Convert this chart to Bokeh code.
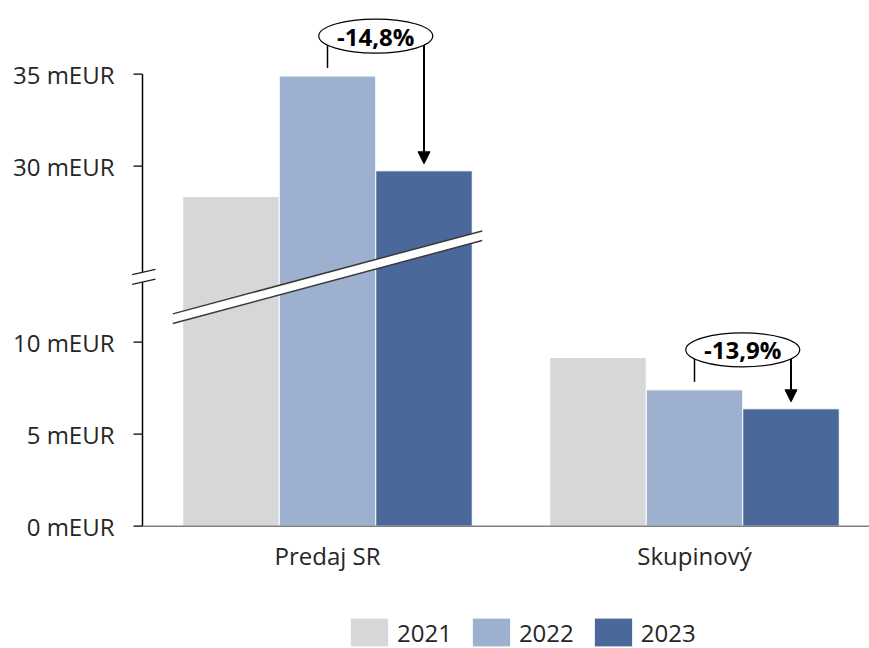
from bokeh.plotting import figure
from bokeh.models import Range1d, Legend, LegendItem, Arrow, NormalHead
from bokeh.core.properties import value
from bokeh.embed import file_html
from bokeh.resources import INLINE

# ---------------- data ----------------
categories = ["Predaj SR", "Skupinový"]
years = ["2021", "2022", "2023"]
v2021 = [28.35, 9.17]
v2022 = [34.9, 7.41]
v2023 = [29.75, 6.38]
changes = ["-14,8%", "-13,9%"]
tick_values = [0, 5, 10, 30, 35]
tick_labels = ["0 mEUR", "5 mEUR", "10 mEUR", "30 mEUR", "35 mEUR"]
colors = ["#D6D7D9", "#9DB0CF", "#4A6899"]

# ---------------- broken axis ----------------
BREAK_AT = 12.0     # values above this are drawn on the upper segment
SHIFT = 10.435      # amount of value range cut out by the break


def disp(v):
    return v if v <= BREAK_AT else v - SHIFT


FONT = value("Open Sans")
TXT = "#262626"

W, H = 869, 648
PX_X = 367.0          # px per category unit
PX_Y = 18.4           # px per mEUR
X0 = 327.0            # canvas px of category 0 centre
Y0 = 525.7            # canvas px of value 0


def sx(px):
    return (px - X0) / PX_X


def sy(py):
    return (Y0 - py) / PX_Y


p = figure(width=W, height=H, min_border=0, x_axis_location=None, y_axis_location=None,
           toolbar_location=None, output_backend="svg",
           x_range=Range1d(sx(0), sx(W)), y_range=Range1d(sy(H), sy(0)))
p.outline_line_color = None
p.background_fill_color = "white"
p.border_fill_color = "white"
p.xgrid.visible = False
p.ygrid.visible = False
p.grid.grid_line_color = None

xs = list(range(len(categories)))
BW = 96.5 / PX_X
offsets = [-BW, 0.0, BW]
series = [v2021, v2022, v2023]

renderers = []
for j, (yr, vals) in enumerate(zip(years, series)):
    r = p.vbar(x=[x + offsets[j] for x in xs], top=[disp(v) for v in vals], bottom=0,
               width=BW, fill_color=colors[j], line_color="white", line_width=1)
    renderers.append(r)

# break band across bars that exceed the break
yc = sy(276.7)
slope = 5.35
hh = 4.8 / PX_Y
half = 0.4215
for i in xs:
    if max(s[i] for s in series) > BREAK_AT:
        xa, xb = i - half, i + half
        ya, yb = yc + slope * (xa - i), yc + slope * (xb - i)
        p.patch([xa, xb, xb, xa], [ya + hh, yb + hh, yb - hh, ya - hh],
                fill_color="white", line_color=None)
        p.segment([xa, xa], [ya + hh, ya - hh], [xb, xb], [yb + hh, yb - hh],
                  line_color="#3a3a3a", line_width=1.5)

# y axis (manual, broken)
ax = sx(142)
p.segment([ax, ax], [0, yc + 0.28], [ax, ax], [yc - 0.28, disp(35)],
          line_color="black", line_width=1.5)
sl = 5.3 / 23.3
xa, xb = sx(131.7), sx(155)
for dy in (4.9, -4.9):
    y1 = sy(276.7 + dy + (142 - 131.7) * sl)
    y2 = sy(276.7 + dy - (155 - 142) * sl)
    p.segment([xa], [y1], [xb], [y2], line_color="#222222", line_width=1.3)
p.segment([sx(133)] * len(tick_values), [disp(t) for t in tick_values],
          [ax] * len(tick_values), [disp(t) for t in tick_values],
          line_color="black", line_width=1.2)
p.text(x=[sx(114)] * len(tick_values), y=[disp(t) for t in tick_values], text=tick_labels,
       text_font=FONT, text_font_size="24px", text_color=TXT,
       text_align="right", text_baseline="middle")

# x axis line and category labels
p.segment([ax], [0], [sx(W)], [0], line_color="#808080", line_width=1.5)
p.text(x=xs, y=[0] * len(xs), text=categories, y_offset=29,
       text_font=FONT, text_font_size="24px", text_color=TXT,
       text_align="center", text_baseline="middle")

# change annotations
for i in xs:
    xl, xr = i + offsets[1], i + offsets[2]
    ex = (xl + xr) / 2
    ey = disp(v2022[i]) + 40 / PX_Y
    p.segment([xl], [ey], [xl], [disp(v2022[i]) + 8 / PX_Y], line_color="black", line_width=1.5)
    p.add_layout(Arrow(x_start=xr, y_start=ey, x_end=xr, y_end=disp(v2023[i]) + 7 / PX_Y,
                       line_color="black", line_width=2,
                       end=NormalHead(size=12, fill_color="black", line_color="black")))
    p.ellipse(x=[ex], y=[ey], width=114, height=34, width_units="screen", height_units="screen",
              fill_color="white", line_color="black", line_width=1.2, level="overlay")
    p.text(x=[ex], y=[ey], text=[changes[i]], text_font=FONT, text_font_style="bold",
           text_font_size="24px", text_color="black", text_align="center",
           text_baseline="middle", level="overlay")

legend = Legend(items=[LegendItem(label=yr, renderers=[r]) for yr, r in zip(years, renderers)],
                orientation="horizontal", location=(345, -2), glyph_width=48, glyph_height=36,
                label_standoff=4, spacing=15, padding=0, margin=0,
                border_line_color=None, background_fill_alpha=0,
                label_text_font="Open Sans", label_text_font_size="24px", label_text_color=TXT)
p.add_layout(legend)

open("out.html", "w").write(file_html(p, INLINE))
